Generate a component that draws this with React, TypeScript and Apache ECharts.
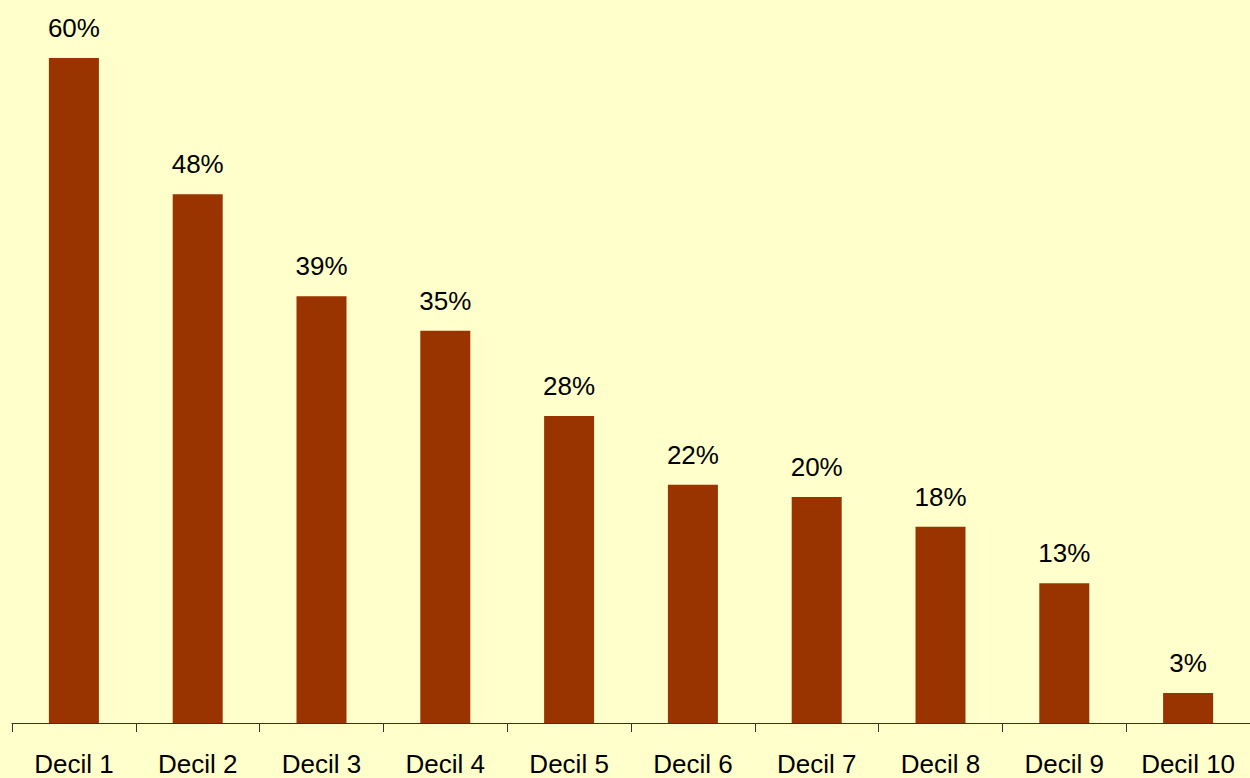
import React, { useEffect, useRef } from "react";
import * as echarts from "echarts";

const categories = ["Decil 1", "Decil 2", "Decil 3", "Decil 4", "Decil 5", "Decil 6", "Decil 7", "Decil 8", "Decil 9", "Decil 10"];
const values = [60, 47.7, 38.5, 35.4, 27.7, 21.5, 20.4, 17.7, 12.6, 2.7];

export default function App() {
  const ref = useRef<HTMLDivElement>(null);
  useEffect(() => {
    if (!ref.current) return;
    const chart = echarts.init(ref.current, null, { renderer: "svg" });
    chart.setOption({
      animation: false,
      backgroundColor: "#FFFFCC",
      grid: { left: 12, top: 58, bottom: 55, width: 1240 },
      xAxis: {
        type: "category",
        data: categories,
        axisLine: { show: true, lineStyle: { color: "#333333", width: 1 } },
        axisTick: { show: true, length: 9, lineStyle: { color: "#333333", width: 1 } },
        axisLabel: {
          color: "#000000",
          fontFamily: "Liberation Sans, Arial, sans-serif",
          fontSize: 26,
          margin: 28,
          interval: 0,
        },
      },
      yAxis: {
        type: "value",
        min: 0,
        max: 60,
        show: false,
        splitLine: { show: false },
      },
      series: [
        {
          type: "bar",
          data: values,
          barWidth: 50,
          itemStyle: { color: "#993300" },
          label: {
            show: true,
            position: "top",
            distance: 17,
            color: "#000000",
            fontFamily: "Liberation Sans, Arial, sans-serif",
            fontSize: 26,
            formatter: (p: any) => Math.round(p.value) + "%",
          },
        },
      ],
    });
    return () => chart.dispose();
  }, []);
  return (
    <div
      ref={ref}
      style={{ position: "absolute", left: 0, top: 0, width: 1250, height: 778 }}
    />
  );
}
